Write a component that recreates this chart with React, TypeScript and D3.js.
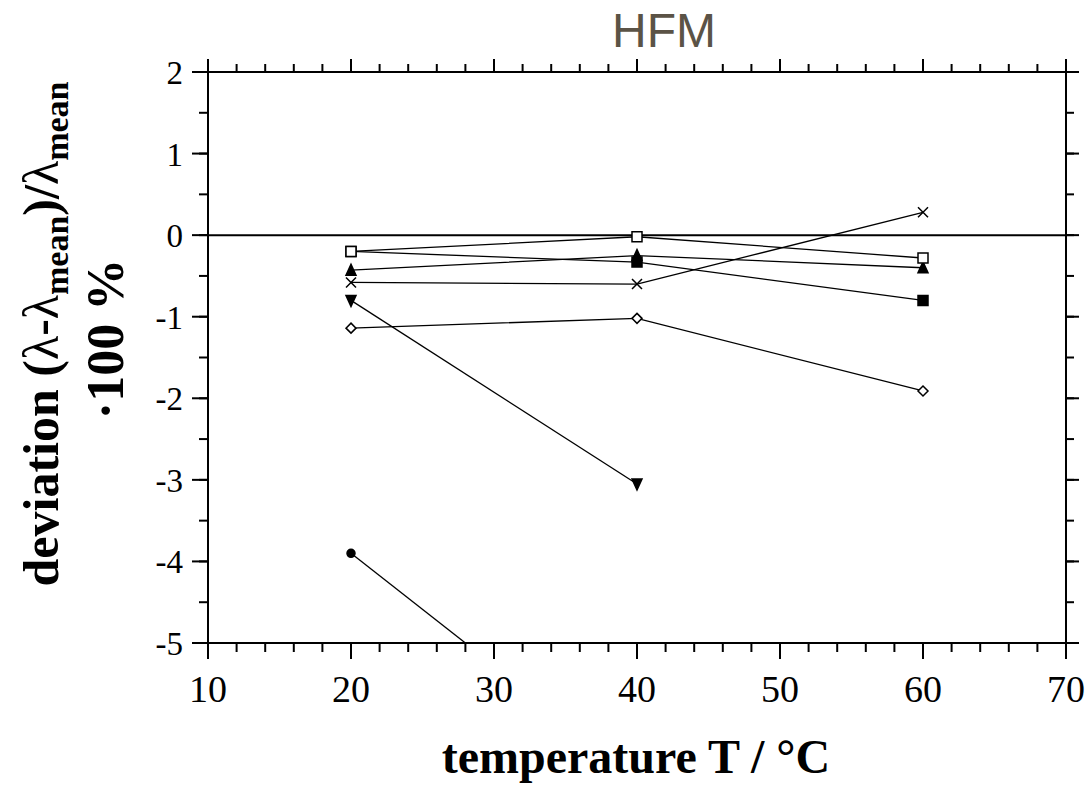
import React from 'react';
import * as d3 from 'd3';

// temperatures (°C) at which deviations were measured
const temps = [20, 40, 60];

// deviation in % per instrument / series (null = no value)
const openSquare = [-0.2, -0.02, -0.28];
const filledSquare = [-0.2, -0.33, -0.8];
const filledTriangle = [-0.43, -0.25, -0.4];
const crossMark = [-0.58, -0.6, 0.28];
const downTriangle = [-0.8, -3.05, null];
const openDiamond = [-1.14, -1.02, -1.91];
const filledCircle = [-3.9, -6.65, null];

const xMajor = [10, 20, 30, 40, 50, 60, 70];
const yMajor = [2, 1, 0, -1, -2, -3, -4, -5];

const series = [
  { name: 'filledCircle', values: filledCircle, shape: 'circle', fill: '#000' },
  { name: 'downTriangle', values: downTriangle, shape: 'down', fill: '#000' },
  { name: 'openDiamond', values: openDiamond, shape: 'diamond', fill: '#fff' },
  { name: 'crossMark', values: crossMark, shape: 'x', fill: 'none' },
  { name: 'filledTriangle', values: filledTriangle, shape: 'up', fill: '#000' },
  { name: 'filledSquare', values: filledSquare, shape: 'square', fill: '#000' },
  { name: 'openSquare', values: openSquare, shape: 'square', fill: '#fff' },
];

const W = 1086;
const H = 785;
const margin = { top: 72, right: 20, bottom: 142, left: 208 };

const serif = '"Liberation Serif", "Times New Roman", serif';

function markerPath(shape: string, r: number) {
  switch (shape) {
    case 'square':
      return `M${-r},${-r}H${r}V${r}H${-r}Z`;
    case 'up':
      return `M0,${-r - 1}L${r},${r}L${-r},${r}Z`;
    case 'down':
      return `M0,${r + 1}L${r},${-r}L${-r},${-r}Z`;
    case 'diamond':
      return `M0,${-r}L${r},0L0,${r}L${-r},0Z`;
    case 'x':
      return `M${-r},${-r}L${r},${r}M${-r},${r}L${r},${-r}`;
    default:
      return d3.arc()({ innerRadius: 0, outerRadius: r, startAngle: 0, endAngle: 2 * Math.PI }) as string;
  }
}

const App = () => {
  const x = d3.scaleLinear().domain([10, 70]).range([margin.left, W - margin.right - 0]);
  const y = d3.scaleLinear().domain([-5, 2]).range([H - margin.bottom, margin.top]);
  const x0 = x(10), x1 = x(70), y0 = y(-5), y1 = y(2);

  const xMinor = d3.range(10, 70.001, 2);
  const yMinor = d3.range(-5, 2.001, 0.5);

  const line = d3.line<[number, number | null]>()
    .defined(d => d[1] !== null)
    .x(d => x(d[0]))
    .y(d => y(d[1] as number));

  const sizes: Record<string, number> = { square: 5, up: 5, down: 5, diamond: 5, x: 5, circle: 4 };

  return (
    <svg width={W} height={H} style={{ position: 'absolute', left: 0, top: 0, background: '#fff' }}>
      <defs>
        <clipPath id="plot">
          <rect x={x0} y={y1} width={x1 - x0} height={y0 - y1} />
        </clipPath>
      </defs>

      <text x={664} y={47} textAnchor="middle" fontFamily='"Liberation Sans", Arial, sans-serif'
        fontSize={48} fill="#5b5346">HFM</text>

      {/* minor ticks */}
      {xMinor.map(v => (
        <g key={'xm' + v} stroke="#000" strokeWidth={2}>
          <line x1={x(v)} x2={x(v)} y1={y0} y2={y0 + 9} />
          <line x1={x(v)} x2={x(v)} y1={y1} y2={y1 - 8} />
        </g>
      ))}
      {yMinor.map(v => (
        <g key={'ym' + v} stroke="#000" strokeWidth={2}>
          <line x1={x0} x2={x0 - 9} y1={y(v)} y2={y(v)} />
          <line x1={x1} x2={x1 + 8} y1={y(v)} y2={y(v)} />
        </g>
      ))}
      {/* major ticks + labels */}
      {xMajor.map(v => (
        <g key={'xM' + v}>
          <line x1={x(v)} x2={x(v)} y1={y0} y2={y0 + 16} stroke="#000" strokeWidth={2} />
          <line x1={x(v)} x2={x(v)} y1={y1} y2={y1 - 13} stroke="#000" strokeWidth={2} />
          <text x={x(v)} y={y0 + 59} textAnchor="middle" fontFamily={serif} fontSize={38}>{v}</text>
        </g>
      ))}
      {yMajor.map(v => (
        <g key={'yM' + v}>
          <line x1={x0} x2={x0 - 16} y1={y(v)} y2={y(v)} stroke="#000" strokeWidth={2} />
          <line x1={x1} x2={x1 + 13} y1={y(v)} y2={y(v)} stroke="#000" strokeWidth={2} />
          <text x={x0 - 25} y={y(v) + 12} textAnchor="end" fontFamily={serif} fontSize={33}>{v}</text>
        </g>
      ))}

      {/* frame */}
      <rect x={x0} y={y1} width={x1 - x0} height={y0 - y1} fill="none" stroke="#000" strokeWidth={2} />
      {/* zero line */}
      <line x1={x0} x2={x1} y1={y(0)} y2={y(0)} stroke="#000" strokeWidth={2} />

      <g clipPath="url(#plot)">
        {series.map(s => (
          <path key={'l' + s.name}
            d={line(temps.map((t, i) => [t, s.values[i]] as [number, number | null])) || ''}
            fill="none" stroke="#000" strokeWidth={1.3} />
        ))}
        {series.map(s => temps.map((t, i) => s.values[i] === null ? null : (
          <path key={s.name + t}
            transform={`translate(${x(t)},${y(s.values[i] as number)})`}
            d={markerPath(s.shape, sizes[s.shape])}
            fill={s.fill} stroke="#000" strokeWidth={1.5} />
        )))}
      </g>

      {/* x title */}
      <text x={636} y={773} textAnchor="middle" fontFamily={serif} fontSize={48} fontWeight="bold">
        temperature T / °C
      </text>

      {/* y title */}
      <g transform="translate(58,334) rotate(-90)">
        <text x={0} y={0} textAnchor="middle" fontFamily={serif} fontSize={50} fontWeight="bold">
          deviation (<tspan fontWeight="normal">λ</tspan>-<tspan fontWeight="normal">λ</tspan>
          <tspan fontSize={34} dy={10}>mean</tspan>
          <tspan dy={-10}>)/</tspan><tspan fontWeight="normal">λ</tspan>
          <tspan fontSize={34} dy={10}>mean</tspan>
        </text>
      </g>
      <g transform="translate(123,339) rotate(-90)">
        <text x={0} y={0} textAnchor="middle" fontFamily={serif} fontSize={52} fontWeight="bold">
          ·100 %
        </text>
      </g>
    </svg>
  );
};

export default App;
